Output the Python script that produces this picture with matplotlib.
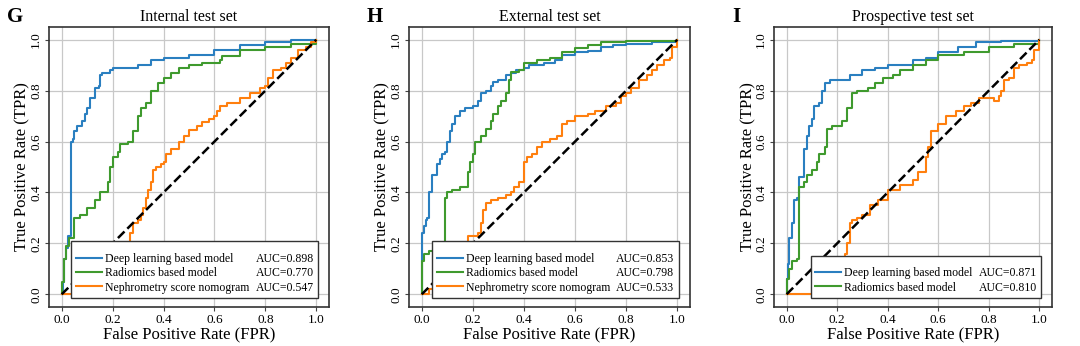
import matplotlib
matplotlib.use("Agg")
import matplotlib.pyplot as plt
from matplotlib.lines import Line2D

plt.rcParams['font.family'] = ['Liberation Serif', 'DejaVu Serif']

# ---------------- data ----------------
titles = ["Internal test set", "External test set", "Prospective test set"]
panel_letters = ["G", "H", "I"]
model_names = ["Deep learning based model", "Radiomics based model", "Nephrometry score nomogram"]
auc_G = ["0.898", "0.770", "0.547"]
auc_H = ["0.853", "0.798", "0.533"]
auc_I = ["0.871", "0.810"]
ticks = [0.0, 0.2, 0.4, 0.6, 0.8, 1.0]
tick_labels = ["0.0", "0.2", "0.4", "0.6", "0.8", "1.0"]

# Internal (G)
g_dl_fpr = [0, 0.005, 0.01, 0.015, 0.025, 0.035, 0.035, 0.045, 0.05, 0.06, 0.08, 0.09, 0.10, 0.11, 0.13, 0.13, 0.145, 0.15, 0.16, 0.19, 0.20, 0.26, 0.30, 0.35, 0.40, 0.50, 0.60, 0.70, 0.80, 0.90, 1.0]
g_dl_tpr = [0, 0.05, 0.14, 0.18, 0.23, 0.23, 0.60, 0.61, 0.64, 0.66, 0.68, 0.71, 0.73, 0.77, 0.77, 0.81, 0.82, 0.86, 0.87, 0.88, 0.89, 0.89, 0.90, 0.92, 0.93, 0.94, 0.96, 0.98, 0.99, 1.0, 1.0]
g_rad_fpr = [0, 0, 0.01, 0.01, 0.015, 0.03, 0.03, 0.05, 0.05, 0.07, 0.10, 0.13, 0.15, 0.18, 0.19, 0.20, 0.20, 0.22, 0.23, 0.26, 0.28, 0.30, 0.31, 0.33, 0.35, 0.38, 0.40, 0.43, 0.46, 0.50, 0.55, 0.62, 0.63, 0.70, 0.80, 0.90, 1.0]
g_rad_tpr = [0, 0.05, 0.05, 0.14, 0.19, 0.20, 0.22, 0.24, 0.30, 0.31, 0.34, 0.37, 0.40, 0.44, 0.50, 0.50, 0.54, 0.56, 0.59, 0.60, 0.64, 0.70, 0.73, 0.75, 0.80, 0.83, 0.85, 0.87, 0.89, 0.90, 0.91, 0.92, 0.935, 0.96, 0.97, 0.985, 1.0]
g_neph_fpr = [0, 0.05, 0.06, 0.10, 0.15, 0.20, 0.22, 0.25, 0.27, 0.28, 0.30, 0.31, 0.32, 0.33, 0.34, 0.35, 0.36, 0.37, 0.39, 0.40, 0.41, 0.43, 0.46, 0.48, 0.50, 0.53, 0.55, 0.58, 0.60, 0.61, 0.62, 0.65, 0.70, 0.74, 0.78, 0.80, 0.81, 0.83, 0.86, 0.88, 0.90, 0.93, 0.96, 0.98, 1.0]
g_neph_tpr = [0, 0.03, 0.05, 0.07, 0.11, 0.17, 0.19, 0.20, 0.24, 0.28, 0.29, 0.31, 0.34, 0.38, 0.41, 0.44, 0.49, 0.50, 0.51, 0.52, 0.55, 0.57, 0.60, 0.62, 0.645, 0.66, 0.675, 0.69, 0.70, 0.72, 0.74, 0.75, 0.77, 0.79, 0.81, 0.82, 0.85, 0.88, 0.89, 0.91, 0.93, 0.96, 0.97, 0.99, 1.0]

# External (H)
h_dl_fpr = [0, 0, 0.005, 0.01, 0.015, 0.02, 0.03, 0.03, 0.04, 0.05, 0.06, 0.07, 0.08, 0.09, 0.10, 0.10, 0.11, 0.12, 0.13, 0.15, 0.17, 0.20, 0.22, 0.23, 0.25, 0.27, 0.28, 0.30, 0.33, 0.35, 0.37, 0.40, 0.42, 0.48, 0.52, 0.55, 0.60, 0.65, 0.70, 0.75, 0.80, 0.90, 1.0]
h_dl_tpr = [0, 0.24, 0.24, 0.27, 0.29, 0.30, 0.33, 0.40, 0.47, 0.47, 0.51, 0.53, 0.55, 0.56, 0.57, 0.60, 0.64, 0.67, 0.70, 0.72, 0.73, 0.74, 0.76, 0.79, 0.80, 0.82, 0.835, 0.84, 0.86, 0.87, 0.88, 0.89, 0.90, 0.91, 0.92, 0.94, 0.95, 0.955, 0.97, 0.98, 0.985, 0.99, 1.0]
h_rad_fpr = [0, 0, 0.01, 0.03, 0.06, 0.08, 0.09, 0.09, 0.10, 0.12, 0.15, 0.18, 0.18, 0.19, 0.20, 0.21, 0.23, 0.25, 0.27, 0.28, 0.30, 0.31, 0.33, 0.34, 0.35, 0.38, 0.40, 0.45, 0.50, 0.55, 0.60, 0.65, 0.70, 0.80, 1.0]
h_rad_tpr = [0, 0.13, 0.16, 0.17, 0.18, 0.19, 0.25, 0.38, 0.40, 0.41, 0.42, 0.43, 0.48, 0.52, 0.55, 0.60, 0.62, 0.65, 0.68, 0.71, 0.74, 0.76, 0.79, 0.84, 0.875, 0.88, 0.91, 0.92, 0.93, 0.95, 0.967, 0.98, 0.99, 0.995, 1.0]
h_neph_fpr = [0, 0.03, 0.08, 0.12, 0.17, 0.18, 0.20, 0.22, 0.23, 0.24, 0.25, 0.27, 0.30, 0.33, 0.35, 0.36, 0.38, 0.40, 0.40, 0.41, 0.43, 0.45, 0.47, 0.50, 0.53, 0.55, 0.57, 0.60, 0.65, 0.68, 0.72, 0.74, 0.76, 0.78, 0.80, 0.82, 0.85, 0.88, 0.90, 0.92, 0.95, 0.97, 0.98, 1.0]
h_neph_tpr = [0, 0.02, 0.05, 0.10, 0.18, 0.23, 0.23, 0.24, 0.28, 0.33, 0.36, 0.37, 0.38, 0.39, 0.40, 0.42, 0.44, 0.46, 0.52, 0.54, 0.55, 0.58, 0.60, 0.61, 0.62, 0.67, 0.68, 0.70, 0.71, 0.72, 0.74, 0.74, 0.75, 0.78, 0.79, 0.81, 0.84, 0.86, 0.88, 0.90, 0.92, 0.93, 0.97, 1.0]

# Prospective (I)
i_dl_fpr = [0, 0, 0.005, 0.01, 0.02, 0.02, 0.03, 0.03, 0.04, 0.05, 0.07, 0.07, 0.08, 0.09, 0.10, 0.11, 0.13, 0.14, 0.15, 0.17, 0.20, 0.25, 0.30, 0.35, 0.40, 0.45, 0.50, 0.55, 0.60, 0.68, 0.75, 0.85, 1.0]
i_dl_tpr = [0, 0.06, 0.12, 0.22, 0.22, 0.28, 0.30, 0.37, 0.38, 0.46, 0.46, 0.57, 0.62, 0.66, 0.69, 0.74, 0.75, 0.80, 0.83, 0.84, 0.84, 0.86, 0.88, 0.89, 0.90, 0.90, 0.92, 0.93, 0.95, 0.97, 0.99, 0.995, 1.0]
i_rad_fpr = [0, 0, 0.01, 0.02, 0.04, 0.05, 0.05, 0.07, 0.08, 0.10, 0.12, 0.13, 0.15, 0.16, 0.16, 0.18, 0.20, 0.22, 0.24, 0.26, 0.28, 0.32, 0.35, 0.38, 0.42, 0.45, 0.50, 0.55, 0.60, 0.70, 0.80, 0.90, 1.0]
i_rad_tpr = [0, 0.06, 0.10, 0.13, 0.14, 0.14, 0.42, 0.44, 0.47, 0.49, 0.52, 0.55, 0.58, 0.62, 0.65, 0.66, 0.66, 0.68, 0.73, 0.79, 0.80, 0.81, 0.83, 0.85, 0.86, 0.88, 0.90, 0.92, 0.94, 0.95, 0.97, 0.985, 1.0]
i_neph_fpr = [0, 0.10, 0.20, 0.23, 0.24, 0.25, 0.26, 0.28, 0.30, 0.33, 0.36, 0.40, 0.45, 0.50, 0.52, 0.55, 0.56, 0.57, 0.60, 0.63, 0.67, 0.70, 0.73, 0.76, 0.80, 0.82, 0.84, 0.85, 0.86, 0.88, 0.90, 0.92, 0.95, 0.97, 0.98, 1.0]
i_neph_tpr = [0, 0.03, 0.08, 0.157, 0.20, 0.28, 0.29, 0.30, 0.31, 0.35, 0.37, 0.41, 0.43, 0.45, 0.48, 0.54, 0.58, 0.64, 0.67, 0.70, 0.72, 0.74, 0.75, 0.77, 0.77, 0.76, 0.78, 0.80, 0.84, 0.85, 0.89, 0.90, 0.91, 0.92, 0.96, 1.0]

panels = [
    ([(g_dl_fpr, g_dl_tpr), (g_rad_fpr, g_rad_tpr), (g_neph_fpr, g_neph_tpr)], auc_G),
    ([(h_dl_fpr, h_dl_tpr), (h_rad_fpr, h_rad_tpr), (h_neph_fpr, h_neph_tpr)], auc_H),
    ([(i_dl_fpr, i_dl_tpr), (i_rad_fpr, i_rad_tpr), (i_neph_fpr, i_neph_tpr)], auc_I),
]

colors = ["#2a7fc0", "#3f9a2e", "#ff7f0e"]

fig = plt.figure(figsize=(10.8, 3.46), dpi=100)
lefts = [49, 409, 774]
widths = [280, 281, 278]
for k, ((curves, aucs), title, letter) in enumerate(zip(panels, titles, panel_letters)):
    ax = fig.add_axes([lefts[k] / 1080, 39 / 346, widths[k] / 1080, 280 / 346])
    ax.grid(True, color="#c8c8c8", linewidth=0.9)
    ax.set_axisbelow(True)
    handles = []
    for (fx, ty), c in zip(curves, colors):
        h, = ax.step(fx, ty, where="post", color=c, linewidth=1.5, zorder=3)
        handles.append(h)
    ax.plot([0, 1], [0, 1], linestyle="--", color="black", linewidth=1.8, zorder=4)
    ax.set_xlim(-0.05, 1.05)
    ax.set_ylim(-0.05, 1.05)
    ax.set_xticks(ticks)
    ax.set_xticklabels(tick_labels, fontsize=9.5)
    ax.set_yticks(ticks)
    ax.set_yticklabels(tick_labels, fontsize=9.5, rotation=90, va="center")
    ax.tick_params(length=3, color="#444444", pad=2)
    for s in ax.spines.values():
        s.set_color("#333333")
        s.set_linewidth(1.2)
    ax.set_title(title, fontsize=11.5, pad=4)
    ax.set_xlabel("False Positive Rate (FPR)", fontsize=12, labelpad=0)
    ax.set_ylabel("True Positive Rate (TPR)", fontsize=12)
    ax.yaxis.set_label_coords(-0.065, 0.5)

    n = len(aucs)
    blank = [Line2D([], [], linestyle="none") for _ in range(n)]
    leg = ax.legend(handles[:n] + blank,
                    model_names[:n] + ["AUC=" + a for a in aucs],
                    ncol=2, loc="lower right", bbox_to_anchor=(0.96, 0.033),
                    fontsize=8.5, frameon=True, fancybox=False, framealpha=1,
                    edgecolor="#333333", handlelength=2.2, handletextpad=0.3,
                    columnspacing=-2.0, labelspacing=0.2, borderpad=0.35,
                    borderaxespad=0, title=" ", title_fontsize=5)
    leg.get_frame().set_linewidth(1.0)
    leg.set_zorder(5)
    for t in leg.get_texts()[n:]:
        t.set_ha("right")

    fig.text((lefts[k] - 42) / 1080, 1 - 17 / 346, letter, fontsize=15,
             fontweight="bold", va="center", ha="left")

fig.savefig("out.png", dpi=100)
